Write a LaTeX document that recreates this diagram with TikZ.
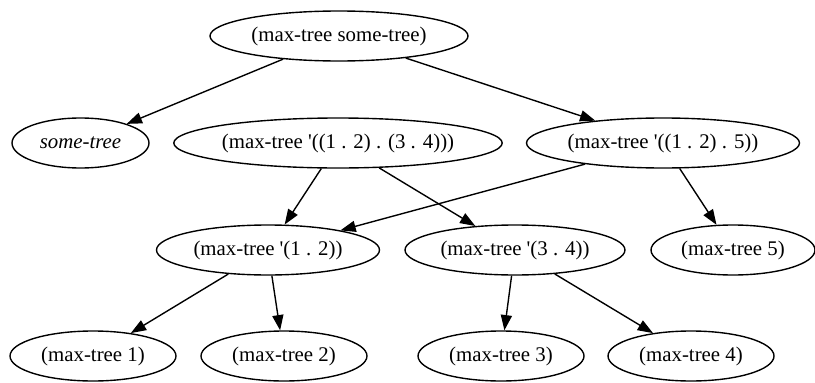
\documentclass[tikz,border=0pt]{standalone}
\usepackage{fontspec}
\setmainfont{Liberation Serif}[Ligatures=TeXOff]
\usetikzlibrary{shapes.geometric,arrows.meta}

\begin{document}
\begin{tikzpicture}[x=0.72pt, y=-0.72pt,
    call/.style={draw, ellipse, line width=1pt, inner sep=0pt, minimum height=36pt,
      font=\fontsize{15}{17}\selectfont},
    wide/.style={call, minimum width=#1*0.72pt},
    link/.style={line width=1pt, -{Triangle[length=11pt,width=8pt]}}]
  \useasboundingbox (0,0) rectangle (815,383);

  % top call
  \node[wide=258] (root) at (339,36) {(max-tree some-tree)};

  % second row
  \node[wide=137] (arg) at (80.5,143) {\textit{some-tree}};
  \node[wide=326] (pairpair) at (338,143) {(max-tree '((1 . 2) . (3 . 4)))};
  \node[wide=273] (pairfive) at (663,143) {(max-tree '((1 . 2) . 5))};

  % third row
  \node[wide=223] (pairA) at (268,250) {(max-tree '(1 . 2))};
  \node[wide=220] (pairB) at (515,250) {(max-tree '(3 . 4))};
  \node[wide=164] (leaf5) at (733,250) {(max-tree 5)};

  % leaves
  \node[wide=166] (leaf1) at (93,356) {(max-tree 1)};
  \node[wide=166] (leaf2) at (284,356) {(max-tree 2)};
  \node[wide=166] (leaf3) at (501,356) {(max-tree 3)};
  \node[wide=166] (leaf4) at (691,356) {(max-tree 4)};

  \foreach \from/\to in {root/arg, root/pairfive, pairpair/pairA, pairpair/pairB,
      pairfive/pairA, pairfive/leaf5, pairA/leaf1, pairA/leaf2, pairB/leaf3, pairB/leaf4}
    \draw[link] (\from) -- (\to);
\end{tikzpicture}
\end{document}
